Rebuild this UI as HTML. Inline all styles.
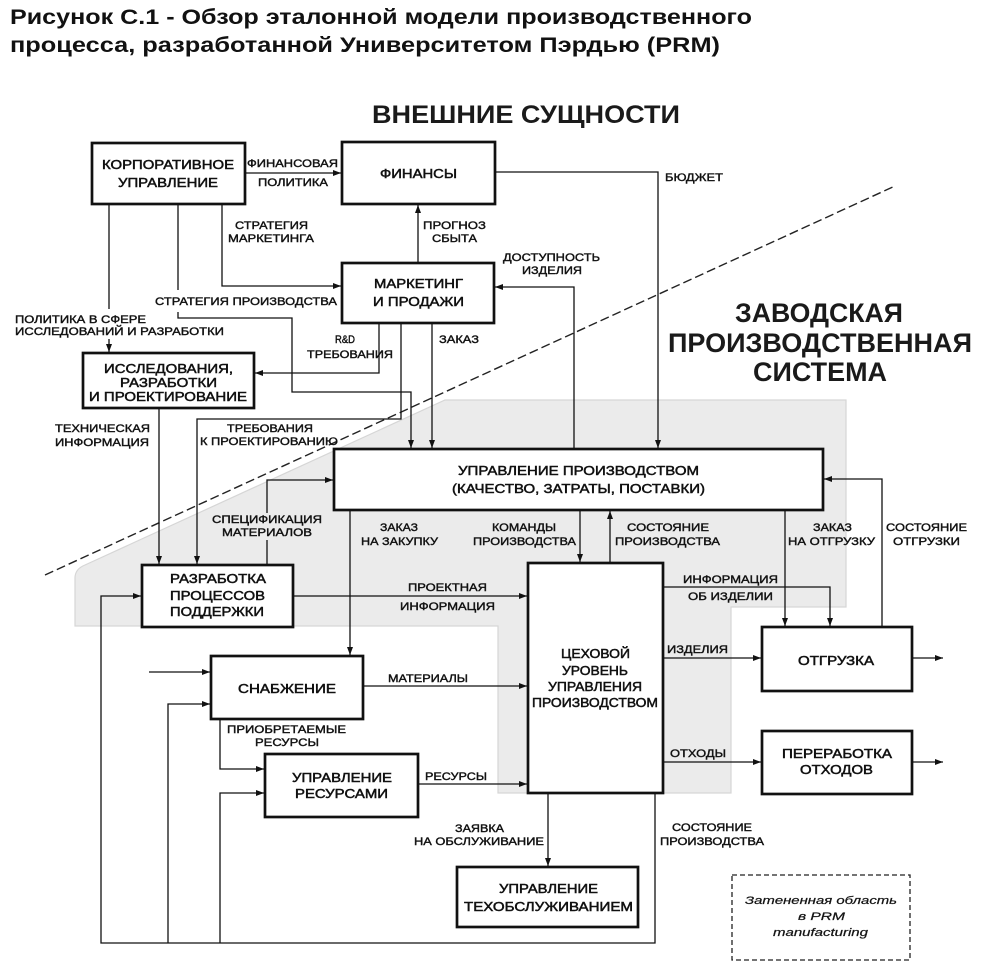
<!DOCTYPE html>
<html>
<head>
<meta charset="utf-8">
<style>
html,body{margin:0;padding:0;background:#fff;}
svg{display:block;}
text{font-family:"Liberation Sans","Noto Sans CJK SC",sans-serif;fill:#111;}
.t{font-size:21px;font-weight:bold;}
.h{font-weight:bold;fill:#1a1a1a;}
.b{font-size:13px;stroke:#111;stroke-width:0.5;}
.l{font-size:11px;stroke:#111;stroke-width:0.4;}
.i{font-size:11px;font-style:italic;stroke:#222;stroke-width:0.25;}
.c{fill:none;stroke:#111;stroke-width:1.3;}
.box{fill:#fff;stroke:#111;stroke-width:2.7;}
</style>
</head>
<body>
<svg width="982" height="968" viewBox="0 0 982 968" xmlns="http://www.w3.org/2000/svg">
<defs>
<marker id="a" markerUnits="userSpaceOnUse" markerWidth="9" markerHeight="7" refX="8" refY="3.5" orient="auto">
<path d="M0,0.5 L8,3.5 L0,6.5 z" fill="#111"/>
</marker>
</defs>

<!-- Title -->
<text class="t" x="10" y="24" textLength="742" lengthAdjust="spacingAndGlyphs">Рисунок С.1 - Обзор эталонной модели производственного</text>
<text class="t" x="10" y="52" textLength="710" lengthAdjust="spacingAndGlyphs">процесса, разработанной Университетом Пэрдью (PRM)</text>

<!-- Gray shaded area -->
<path d="M445,400 L846,400 L846,607 L731,607 L731,793 L498,793 L498,626 L75,626 L75,578 Q75,569 85,565 Z" fill="#ebebeb" stroke="#d6d6d6" stroke-width="1.2"/>

<!-- dashed diagonal -->
<line x1="45" y1="575" x2="895" y2="186" stroke="#222" stroke-width="1.4" stroke-dasharray="9,4"/>

<!-- Headings -->
<text class="h" x="372" y="123" font-size="25" textLength="308" lengthAdjust="spacingAndGlyphs">ВНЕШНИЕ СУЩНОСТИ</text>
<text class="h" x="735" y="322" font-size="27" textLength="168" lengthAdjust="spacingAndGlyphs">ЗАВОДСКАЯ</text>
<text class="h" x="668" y="352" font-size="27" textLength="304" lengthAdjust="spacingAndGlyphs">ПРОИЗВОДСТВЕННАЯ</text>
<text class="h" x="753" y="381" font-size="27" textLength="134" lengthAdjust="spacingAndGlyphs">СИСТЕМА</text>

<!-- Connectors -->
<path class="c" d="M245,173 H341" marker-end="url(#a)"/>
<path class="c" d="M495,172 H658 V448" marker-end="url(#a)"/>
<path class="c" d="M418,263 V205" marker-end="url(#a)"/>
<path class="c" d="M222,204 V286 H341" marker-end="url(#a)"/>
<path class="c" d="M178,204 V290"/>
<path class="c" d="M178,312 V318 H292 V392 H411 V448" marker-end="url(#a)"/>
<path class="c" d="M109,204 V309"/>
<path class="c" d="M109,339 V352" marker-end="url(#a)"/>
<path class="c" d="M379,323 V373 H255" marker-end="url(#a)"/>
<path class="c" d="M401,323 V419 H197 V564" marker-end="url(#a)"/>
<path class="c" d="M432,323 V448" marker-end="url(#a)"/>
<path class="c" d="M574,449 V287 H495" marker-end="url(#a)"/>
<path class="c" d="M159,408 V564" marker-end="url(#a)"/>
<path class="c" d="M267,565 V540"/>
<path class="c" d="M267,513 V480 H333" marker-end="url(#a)"/>
<path class="c" d="M293,596 H527" marker-end="url(#a)"/>
<path class="c" d="M350,510 V655" marker-end="url(#a)"/>
<path class="c" d="M580,510 V562" marker-end="url(#a)"/>
<path class="c" d="M610,563 V511" marker-end="url(#a)"/>
<path class="c" d="M785,510 V626" marker-end="url(#a)"/>
<path class="c" d="M882,627 V479 H824" marker-end="url(#a)"/>
<path class="c" d="M663,587 H830 V626" marker-end="url(#a)"/>
<path class="c" d="M663,658 H761" marker-end="url(#a)"/>
<path class="c" d="M912,658 H943" marker-end="url(#a)"/>
<path class="c" d="M663,762 H761" marker-end="url(#a)"/>
<path class="c" d="M912,762 H943" marker-end="url(#a)"/>
<path class="c" d="M363,686 H527" marker-end="url(#a)"/>
<path class="c" d="M418,784 H527" marker-end="url(#a)"/>
<path class="c" d="M220,719 V769 H264" marker-end="url(#a)"/>
<path class="c" d="M149,672 H210" marker-end="url(#a)"/>
<path class="c" d="M548,793 V866" marker-end="url(#a)"/>
<path class="c" d="M655,793 V943 H101 V596 H141" marker-end="url(#a)"/>
<path class="c" d="M168,943 V704 H210" marker-end="url(#a)"/>
<path class="c" d="M220,943 V793 H264" marker-end="url(#a)"/>

<!-- Boxes -->
<rect class="box" x="92" y="143" width="153" height="61"/>
<rect class="box" x="342" y="142" width="153" height="62"/>
<rect class="box" x="342" y="263" width="152" height="60"/>
<rect class="box" x="83" y="353" width="171" height="55"/>
<rect class="box" x="334" y="449" width="489" height="61"/>
<rect class="box" x="142" y="565" width="151" height="62"/>
<rect class="box" x="528" y="563" width="135" height="230"/>
<rect class="box" x="762" y="627" width="150" height="64"/>
<rect class="box" x="762" y="731" width="150" height="63"/>
<rect class="box" x="211" y="656" width="152" height="63"/>
<rect class="box" x="265" y="754" width="153" height="63"/>
<rect class="box" x="457" y="867" width="181" height="60"/>
<rect x="732" y="875" width="178" height="85" fill="none" stroke="#222" stroke-width="1.3" stroke-dasharray="5,3"/>

<!-- Box labels -->
<text class="b" x="102" y="169" textLength="132" lengthAdjust="spacingAndGlyphs">КОРПОРАТИВНОЕ</text>
<text class="b" x="118" y="187" textLength="100" lengthAdjust="spacingAndGlyphs">УПРАВЛЕНИЕ</text>
<text class="b" x="380" y="178" textLength="77" lengthAdjust="spacingAndGlyphs">ФИНАНСЫ</text>
<text class="b" x="374" y="288" textLength="89" lengthAdjust="spacingAndGlyphs">МАРКЕТИНГ</text>
<text class="b" x="373" y="306" textLength="91" lengthAdjust="spacingAndGlyphs">И ПРОДАЖИ</text>
<text class="b" x="104" y="373" textLength="129" lengthAdjust="spacingAndGlyphs">ИССЛЕДОВАНИЯ,</text>
<text class="b" x="120" y="387" textLength="97" lengthAdjust="spacingAndGlyphs">РАЗРАБОТКИ</text>
<text class="b" x="89" y="401" textLength="158" lengthAdjust="spacingAndGlyphs">И ПРОЕКТИРОВАНИЕ</text>
<text class="b" x="458" y="475" textLength="241" lengthAdjust="spacingAndGlyphs">УПРАВЛЕНИЕ ПРОИЗВОДСТВОМ</text>
<text class="b" x="452" y="493" textLength="253" lengthAdjust="spacingAndGlyphs">(КАЧЕСТВО, ЗАТРАТЫ, ПОСТАВКИ)</text>
<text class="b" x="170" y="583" textLength="96" lengthAdjust="spacingAndGlyphs">РАЗРАБОТКА</text>
<text class="b" x="170" y="600" textLength="95" lengthAdjust="spacingAndGlyphs">ПРОЦЕССОВ</text>
<text class="b" x="170" y="616" textLength="94" lengthAdjust="spacingAndGlyphs">ПОДДЕРЖКИ</text>
<text class="b" x="561" y="658" textLength="69" lengthAdjust="spacingAndGlyphs">ЦЕХОВОЙ</text>
<text class="b" x="562" y="675" textLength="66" lengthAdjust="spacingAndGlyphs">УРОВЕНЬ</text>
<text class="b" x="548" y="691" textLength="94" lengthAdjust="spacingAndGlyphs">УПРАВЛЕНИЯ</text>
<text class="b" x="532" y="707" textLength="126" lengthAdjust="spacingAndGlyphs">ПРОИЗВОДСТВОМ</text>
<text class="b" x="798" y="665" textLength="76" lengthAdjust="spacingAndGlyphs">ОТГРУЗКА</text>
<text class="b" x="782" y="758" textLength="110" lengthAdjust="spacingAndGlyphs">ПЕРЕРАБОТКА</text>
<text class="b" x="800" y="774" textLength="73" lengthAdjust="spacingAndGlyphs">ОТХОДОВ</text>
<text class="b" x="238" y="693" textLength="98" lengthAdjust="spacingAndGlyphs">СНАБЖЕНИЕ</text>
<text class="b" x="292" y="782" textLength="100" lengthAdjust="spacingAndGlyphs">УПРАВЛЕНИЕ</text>
<text class="b" x="295" y="798" textLength="93" lengthAdjust="spacingAndGlyphs">РЕСУРСАМИ</text>
<text class="b" x="499" y="893" textLength="99" lengthAdjust="spacingAndGlyphs">УПРАВЛЕНИЕ</text>
<text class="b" x="464" y="911" textLength="169" lengthAdjust="spacingAndGlyphs">ТЕХОБСЛУЖИВАНИЕМ</text>

<!-- Connector labels -->
<text class="l" x="247" y="167" textLength="91" lengthAdjust="spacingAndGlyphs">ФИНАНСОВАЯ</text>
<text class="l" x="258" y="186" textLength="70" lengthAdjust="spacingAndGlyphs">ПОЛИТИКА</text>
<text class="l" x="665" y="181" textLength="58" lengthAdjust="spacingAndGlyphs">БЮДЖЕТ</text>
<text class="l" x="423" y="229" textLength="63" lengthAdjust="spacingAndGlyphs">ПРОГНОЗ</text>
<text class="l" x="432" y="242" textLength="45" lengthAdjust="spacingAndGlyphs">СБЫТА</text>
<text class="l" x="235" y="229" textLength="73" lengthAdjust="spacingAndGlyphs">СТРАТЕГИЯ</text>
<text class="l" x="228" y="242" textLength="86" lengthAdjust="spacingAndGlyphs">МАРКЕТИНГА</text>
<text class="l" x="155" y="305" textLength="182" lengthAdjust="spacingAndGlyphs">СТРАТЕГИЯ ПРОИЗВОДСТВА</text>
<text class="l" x="15" y="323" textLength="131" lengthAdjust="spacingAndGlyphs">ПОЛИТИКА В СФЕРЕ</text>
<text class="l" x="15" y="335" textLength="209" lengthAdjust="spacingAndGlyphs">ИССЛЕДОВАНИЙ И РАЗРАБОТКИ</text>
<text class="l" x="335" y="343" textLength="20" lengthAdjust="spacingAndGlyphs">R&amp;D</text>
<text class="l" x="307" y="358" textLength="86" lengthAdjust="spacingAndGlyphs">ТРЕБОВАНИЯ</text>
<text class="l" x="439" y="343" textLength="40" lengthAdjust="spacingAndGlyphs">ЗАКАЗ</text>
<text class="l" x="503" y="261" textLength="97" lengthAdjust="spacingAndGlyphs">ДОСТУПНОСТЬ</text>
<text class="l" x="522" y="274" textLength="60" lengthAdjust="spacingAndGlyphs">ИЗДЕЛИЯ</text>
<text class="l" x="55" y="432" textLength="95" lengthAdjust="spacingAndGlyphs">ТЕХНИЧЕСКАЯ</text>
<text class="l" x="55" y="446" textLength="94" lengthAdjust="spacingAndGlyphs">ИНФОРМАЦИЯ</text>
<text class="l" x="227" y="432" textLength="86" lengthAdjust="spacingAndGlyphs">ТРЕБОВАНИЯ</text>
<text class="l" x="200" y="445" textLength="138" lengthAdjust="spacingAndGlyphs">К ПРОЕКТИРОВАНИЮ</text>
<text class="l" x="212" y="523" textLength="110" lengthAdjust="spacingAndGlyphs">СПЕЦИФИКАЦИЯ</text>
<text class="l" x="222" y="536" textLength="90" lengthAdjust="spacingAndGlyphs">МАТЕРИАЛОВ</text>
<text class="l" x="380" y="531" textLength="38" lengthAdjust="spacingAndGlyphs">ЗАКАЗ</text>
<text class="l" x="361" y="545" textLength="77" lengthAdjust="spacingAndGlyphs">НА ЗАКУПКУ</text>
<text class="l" x="492" y="531" textLength="64" lengthAdjust="spacingAndGlyphs">КОМАНДЫ</text>
<text class="l" x="473" y="545" textLength="103" lengthAdjust="spacingAndGlyphs">ПРОИЗВОДСТВА</text>
<text class="l" x="627" y="531" textLength="82" lengthAdjust="spacingAndGlyphs">СОСТОЯНИЕ</text>
<text class="l" x="615" y="545" textLength="105" lengthAdjust="spacingAndGlyphs">ПРОИЗВОДСТВА</text>
<text class="l" x="813" y="531" textLength="39" lengthAdjust="spacingAndGlyphs">ЗАКАЗ</text>
<text class="l" x="788" y="545" textLength="87" lengthAdjust="spacingAndGlyphs">НА ОТГРУЗКУ</text>
<text class="l" x="886" y="531" textLength="81" lengthAdjust="spacingAndGlyphs">СОСТОЯНИЕ</text>
<text class="l" x="893" y="545" textLength="67" lengthAdjust="spacingAndGlyphs">ОТГРУЗКИ</text>
<text class="l" x="408" y="591" textLength="79" lengthAdjust="spacingAndGlyphs">ПРОЕКТНАЯ</text>
<text class="l" x="400" y="610" textLength="95" lengthAdjust="spacingAndGlyphs">ИНФОРМАЦИЯ</text>
<text class="l" x="683" y="583" textLength="95" lengthAdjust="spacingAndGlyphs">ИНФОРМАЦИЯ</text>
<text class="l" x="688" y="600" textLength="85" lengthAdjust="spacingAndGlyphs">ОБ ИЗДЕЛИИ</text>
<text class="l" x="667" y="653" textLength="61" lengthAdjust="spacingAndGlyphs">ИЗДЕЛИЯ</text>
<text class="l" x="388" y="682" textLength="80" lengthAdjust="spacingAndGlyphs">МАТЕРИАЛЫ</text>
<text class="l" x="227" y="733" textLength="119" lengthAdjust="spacingAndGlyphs">ПРИОБРЕТАЕМЫЕ</text>
<text class="l" x="255" y="746" textLength="64" lengthAdjust="spacingAndGlyphs">РЕСУРСЫ</text>
<text class="l" x="425" y="780" textLength="62" lengthAdjust="spacingAndGlyphs">РЕСУРСЫ</text>
<text class="l" x="670" y="757" textLength="56" lengthAdjust="spacingAndGlyphs">ОТХОДЫ</text>
<text class="l" x="455" y="832" textLength="49" lengthAdjust="spacingAndGlyphs">ЗАЯВКА</text>
<text class="l" x="414" y="845" textLength="130" lengthAdjust="spacingAndGlyphs">НА ОБСЛУЖИВАНИЕ</text>
<text class="l" x="672" y="831" textLength="80" lengthAdjust="spacingAndGlyphs">СОСТОЯНИЕ</text>
<text class="l" x="660" y="845" textLength="104" lengthAdjust="spacingAndGlyphs">ПРОИЗВОДСТВА</text>

<!-- Legend -->
<text class="i" x="745" y="904" textLength="152" lengthAdjust="spacingAndGlyphs">Затененная область</text>
<text class="i" x="798" y="920" textLength="47" lengthAdjust="spacingAndGlyphs">в PRM</text>
<text class="i" x="773" y="936" textLength="95" lengthAdjust="spacingAndGlyphs">manufacturing</text>
</svg>
</body>
</html>
